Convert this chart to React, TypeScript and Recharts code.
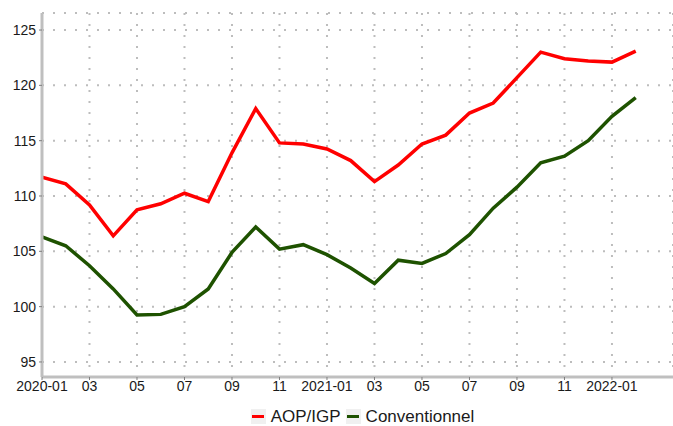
import React from "react";
import { LineChart, Line, XAxis, YAxis, CartesianGrid, Legend } from "recharts";

const months = [
  "2020-01", "2020-02", "2020-03", "2020-04", "2020-05", "2020-06", "2020-07", "2020-08", "2020-09", "2020-10", "2020-11", "2020-12",
  "2021-01", "2021-02", "2021-03", "2021-04", "2021-05", "2021-06", "2021-07", "2021-08", "2021-09", "2021-10", "2021-11", "2021-12",
  "2022-01", "2022-02",
];
const aopIgp = [
  111.7, 111.1, 109.2, 106.4, 108.75, 109.3, 110.25, 109.5, 113.9, 117.9, 114.8, 114.7,
  114.25, 113.2, 111.3, 112.8, 114.7, 115.5, 117.5, 118.4, 120.7, 123.0, 122.4, 122.2,
  122.1, 123.1,
];
const conventionnel = [
  106.3, 105.5, 103.7, 101.6, 99.25, 99.3, 100.0, 101.6, 104.9, 107.2, 105.2, 105.6,
  104.7, 103.5, 102.1, 104.2, 103.9, 104.8, 106.5, 108.9, 110.8, 113.0, 113.6, 115.0,
  117.2, 118.9,
];
const xTickIdx = [0, 2, 4, 6, 8, 10, 12, 14, 16, 18, 20, 22, 24];
const xTickLabels = ["2020-01", "03", "05", "07", "09", "11", "2021-01", "03", "05", "07", "09", "11", "2022-01"];
const yTicks = [95, 100, 105, 110, 115, 120, 125];
const seriesNames = ["AOP/IGP", "Conventionnel"];
const seriesColors = ["#ff0000", "#1e5200"];

const data = months.map((m, i) => ({ idx: i, month: m, aop: aopIgp[i], conv: conventionnel[i] }));

const FONT = "'Liberation Sans', Arial, sans-serif";

const LegendContent = () => (
  <div
    style={{
      height: 30,
      display: "flex",
      justifyContent: "center",
      alignItems: "flex-start",
      paddingTop: 12,
      paddingLeft: 52,
      boxSizing: "border-box",
      fontFamily: FONT,
      fontSize: 17,
      color: "#1a1a1a",
    }}
  >
    {seriesNames.map((n, i) => (
      <div key={n} style={{ display: "flex", alignItems: "center", marginRight: i === 0 ? 5 : 0 }}>
        <div
          style={{
            width: 15,
            height: 15,
            background: "#f0f0f0",
            display: "flex",
            alignItems: "center",
            justifyContent: "center",
            marginRight: 5,
          }}
        >
          <div style={{ width: 12, height: 3.5, background: seriesColors[i] }} />
        </div>
        <span style={{ lineHeight: "17px" }}>{n}</span>
      </div>
    ))}
  </div>
);

export default function App() {
  return (
    <div style={{ position: "absolute", left: 0, top: 0 }}>
      <LineChart width={673} height={426} data={data} margin={{ top: 13, right: 0, left: 0, bottom: 0 }}>
        <CartesianGrid stroke="#bdbdbd" strokeWidth={2} strokeDasharray="2 9" horizontal vertical />
        <XAxis
          dataKey="idx"
          type="number"
          domain={[0, 26.57]}
          allowDataOverflow
          ticks={xTickIdx}
          tickFormatter={(v: number) => xTickLabels[xTickIdx.indexOf(v)] ?? ""}
          height={19}
          tickSize={3}
          tickMargin={1}
          axisLine={{ stroke: "#bfbfbf", strokeWidth: 3 }}
          tickLine={{ stroke: "#7f7f7f", strokeWidth: 1 }}
          tick={{ fill: "#1a1a1a", fontSize: 14, fontFamily: FONT }}
          interval={0}
        />
        <YAxis
          type="number"
          domain={[93.64, 126.54]}
          allowDataOverflow
          ticks={yTicks}
          width={42}
          tickSize={3}
          tickMargin={3}
          axisLine={{ stroke: "#bfbfbf", strokeWidth: 3 }}
          tickLine={{ stroke: "#7f7f7f", strokeWidth: 1 }}
          tick={{ fill: "#1a1a1a", fontSize: 14, fontFamily: FONT }}
          interval={0}
        />
        <Legend verticalAlign="bottom" content={<LegendContent />} wrapperStyle={{ height: 30 }} />
        <Line
          type="linear"
          dataKey="aop"
          name={seriesNames[0]}
          stroke={seriesColors[0]}
          strokeWidth={3.5}
          dot={false}
          isAnimationActive={false}
        />
        <Line
          type="linear"
          dataKey="conv"
          name={seriesNames[1]}
          stroke={seriesColors[1]}
          strokeWidth={3.5}
          dot={false}
          isAnimationActive={false}
        />
      </LineChart>
    </div>
  );
}
